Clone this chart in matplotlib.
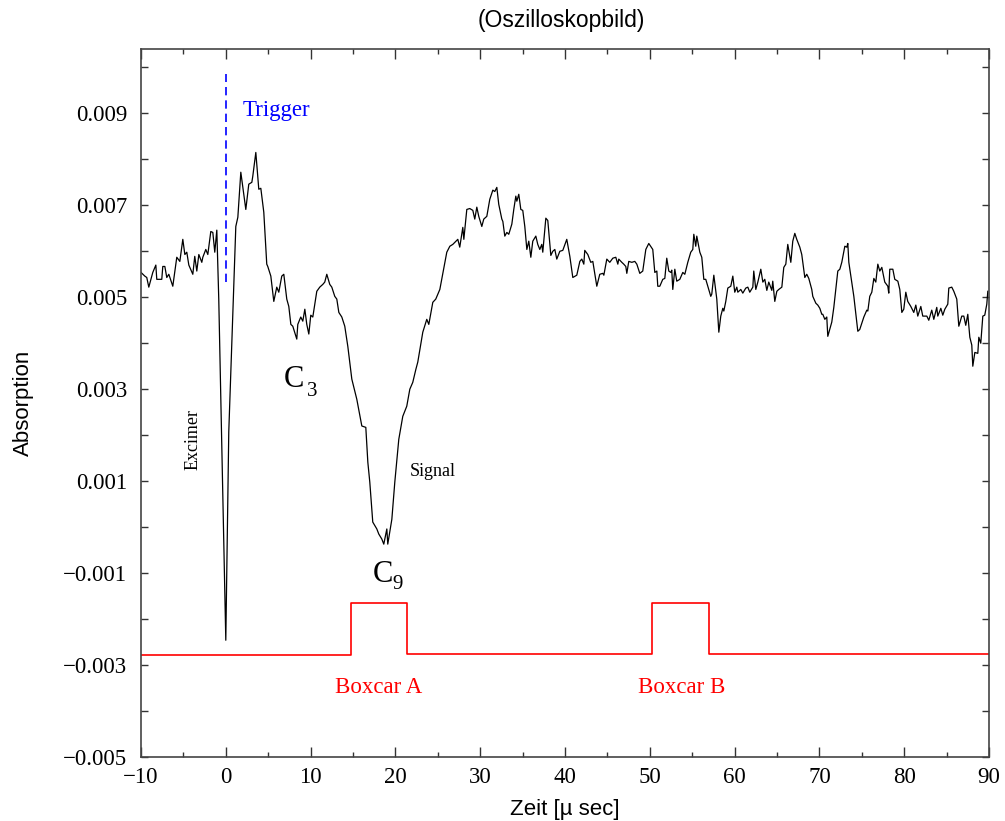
import numpy as np
import matplotlib
matplotlib.use("Agg")
import matplotlib.pyplot as plt
from matplotlib.ticker import MultipleLocator, FuncFormatter

# --- oscilloscope trace (time in microseconds, absorption in units of 1e-3) ---
zeit = [
    -10.0, -9.55, -9.32, -9.08, -8.61, -8.25, -8.14, -7.55, -7.43, -7.19,
    -6.96, -6.72, -6.25, -5.78, -5.42, -5.07, -4.83, -4.60, -4.36, -3.89,
    -3.66, -3.42, -3.18, -2.83, -2.71, -2.36, -2.12, -1.77, -1.53, -1.30,
    -1.06, -0.83, -0.47, 0.0, 0.35, 0.83, 1.18, 1.42, 1.77, 2.00,
    2.36, 2.71, 3.07, 3.18, 3.54, 3.89, 4.13, 4.48, 4.83, 4.95,
    5.31, 5.66, 6.01, 6.25, 6.60, 6.84, 7.19, 7.43, 7.67, 7.90,
    8.37, 8.49, 8.84, 9.08, 9.32, 9.55, 9.79, 10.02, 10.26, 10.73,
    11.08, 11.44, 11.67, 11.91, 12.26, 12.50, 12.85, 13.09, 13.33, 13.68,
    14.03, 14.39, 14.86, 15.45, 16.04, 16.51, 16.75, 16.98, 17.33, 17.81,
    18.04, 18.40, 18.63, 18.99, 19.10, 19.58, 19.93, 20.40, 20.87, 21.34,
    21.70, 22.05, 22.41, 22.64, 23.23, 23.70, 23.94, 24.41, 24.76, 25.24,
    25.83, 26.06, 26.42, 26.77, 27.36, 27.59, 27.95, 28.07, 28.42, 28.77,
    29.13, 29.36, 29.60, 29.83, 30.19, 30.42, 30.78, 31.13, 31.49, 31.72,
    31.96, 32.19, 32.55, 32.67, 32.90, 33.14, 33.37, 33.73, 33.96, 34.20,
    34.32, 34.55, 34.79, 35.02, 35.26, 35.50, 35.73, 35.97, 36.20, 36.56,
    36.79, 37.03, 37.26, 37.38, 37.74, 37.97, 38.33, 38.56, 38.80, 39.03,
    39.39, 39.74, 40.21, 40.57, 40.92, 41.39, 41.75, 41.98, 42.22, 42.33,
    42.69, 43.04, 43.28, 43.75, 43.87, 44.10, 44.46, 44.58, 44.93, 45.28,
    45.64, 45.99, 46.23, 46.34, 46.70, 46.93, 47.17, 47.29, 47.52, 47.88,
    48.23, 48.47, 48.82, 49.17, 49.53, 49.88, 50.35, 50.59, 50.83, 50.94,
    51.18, 51.53, 51.77, 52.00, 52.24, 52.48, 52.59, 52.71, 52.95, 53.18,
    53.54, 53.89, 54.13, 54.48, 54.83, 55.07, 55.19, 55.42, 55.54, 55.90,
    56.13, 56.37, 56.60, 56.84, 57.19, 57.31, 57.55, 57.90, 58.14, 58.37,
    58.61, 58.73, 58.96, 59.20, 59.55, 59.79, 60.02, 60.26, 60.38, 60.73,
    60.97, 61.32, 61.56, 61.79, 62.15, 62.26, 62.50, 62.74, 63.09, 63.33,
    63.56, 63.80, 64.03, 64.39, 64.50, 64.74, 64.98, 65.21, 65.57, 65.80,
    66.04, 66.27, 66.63, 66.86, 67.10, 67.33, 67.69, 67.92, 68.28, 68.51,
    68.75, 69.10, 69.22, 69.58, 69.81, 70.05, 70.28, 70.40, 70.64, 70.87,
    70.99, 71.46, 71.70, 72.17, 72.41, 72.64, 73.00, 73.23, 73.35, 73.47,
    73.82, 74.06, 74.53, 74.76, 75.24, 75.59, 75.71, 75.94, 76.18, 76.42,
    76.65, 76.89, 77.12, 77.36, 77.71, 78.07, 78.18, 78.30, 78.66, 78.89,
    79.25, 79.48, 79.72, 79.95, 80.19, 80.42, 80.78, 81.13, 81.37, 81.60,
    81.96, 82.19, 82.67, 82.90, 83.25, 83.49, 83.84, 83.96, 84.32, 84.55,
    84.79, 85.14, 85.26, 85.61, 85.85, 86.20, 86.44, 86.79, 87.03, 87.26,
    87.50, 87.74, 87.97, 88.09, 88.33, 88.68, 88.80, 89.03, 89.27, 89.50,
    89.74, 89.86,
]
absorption_milli = [
    5.54, 5.46, 5.43, 5.22, 5.54, 5.70, 5.39, 5.39, 5.67, 5.67,
    5.43, 5.50, 5.24, 5.87, 5.78, 6.26, 5.93, 5.98, 5.70, 5.50,
    5.89, 5.57, 5.93, 5.76, 5.87, 6.04, 5.93, 6.43, 6.41, 5.98,
    6.46, 4.96, 1.70, -2.46, 2.07, 4.67, 6.54, 6.74, 7.72, 7.41,
    6.91, 7.46, 7.50, 7.63, 8.15, 7.35, 7.37, 6.85, 5.72, 5.67,
    5.46, 4.91, 5.22, 5.11, 5.46, 5.50, 4.96, 4.80, 4.41, 4.37,
    4.09, 4.41, 4.57, 4.48, 4.74, 4.41, 4.20, 4.61, 4.57, 5.13,
    5.22, 5.28, 5.33, 5.50, 5.28, 5.22, 5.02, 4.96, 4.67, 4.57,
    4.37, 3.93, 3.22, 2.78, 2.20, 2.17, 1.41, 0.98, 0.11, -0.04,
    -0.15, -0.26, -0.37, -0.04, -0.37, 0.17, 0.98, 1.91, 2.41, 2.63,
    3.00, 3.15, 3.43, 3.59, 4.24, 4.52, 4.41, 4.89, 4.96, 5.17,
    5.76, 5.98, 6.11, 6.15, 6.26, 6.09, 6.52, 6.26, 6.91, 6.93,
    6.89, 6.70, 6.96, 6.76, 6.54, 6.70, 6.76, 7.13, 7.33, 7.30,
    7.39, 7.02, 6.70, 6.65, 6.33, 6.41, 6.37, 6.59, 6.91, 7.20,
    7.09, 7.24, 6.91, 6.89, 6.54, 6.04, 6.22, 5.87, 6.22, 6.33,
    6.15, 6.04, 6.15, 5.98, 6.72, 6.67, 5.91, 6.00, 6.04, 5.83,
    6.00, 6.02, 6.26, 5.89, 5.43, 5.48, 5.78, 5.83, 5.72, 6.02,
    5.93, 5.76, 5.78, 5.24, 5.33, 5.50, 5.52, 5.48, 5.83, 5.76,
    5.85, 5.87, 5.72, 5.83, 5.76, 5.72, 5.67, 5.52, 5.78, 5.76,
    5.78, 5.72, 5.52, 5.57, 6.04, 6.17, 6.04, 5.54, 5.57, 5.24,
    5.24, 5.39, 5.41, 5.85, 5.57, 5.54, 5.59, 5.17, 5.61, 5.35,
    5.39, 5.54, 5.50, 5.76, 5.98, 6.04, 6.37, 6.11, 6.33, 5.98,
    5.87, 5.39, 5.39, 5.24, 5.02, 5.07, 5.48, 4.96, 4.24, 4.59,
    4.76, 4.70, 4.91, 5.20, 5.24, 5.46, 5.11, 5.22, 5.11, 5.17,
    5.09, 5.20, 5.22, 5.11, 5.22, 5.57, 5.17, 5.33, 5.61, 5.33,
    5.39, 5.15, 5.33, 5.15, 5.35, 4.91, 5.13, 5.17, 5.22, 5.65,
    5.72, 6.15, 5.76, 6.22, 6.39, 6.26, 6.09, 5.93, 5.43, 5.50,
    5.41, 5.17, 5.02, 4.87, 4.83, 4.76, 4.63, 4.63, 4.52, 4.57,
    4.15, 4.46, 4.78, 5.57, 5.61, 5.76, 6.11, 6.09, 6.17, 5.76,
    5.33, 5.02, 4.26, 4.30, 4.57, 4.72, 4.70, 5.02, 5.11, 5.41,
    5.33, 5.72, 5.57, 5.65, 5.33, 5.24, 5.09, 5.61, 5.61, 5.39,
    5.35, 5.17, 4.67, 4.74, 5.11, 4.91, 4.80, 4.67, 4.83, 4.59,
    4.80, 4.59, 4.59, 4.50, 4.72, 4.52, 4.78, 4.59, 4.76, 4.61,
    4.74, 4.85, 5.20, 5.22, 5.13, 4.96, 4.37, 4.59, 4.59, 4.39,
    4.63, 4.13, 3.96, 3.50, 3.80, 3.78, 4.13, 4.00, 4.59, 4.61,
    4.85, 5.13,
]

# --- boxcar gate windows ---
boxcar_zeit = [-10.0, 14.8, 14.8, 21.4, 21.4, 50.3, 50.3, 57.0, 57.0, 90.0]
boxcar_milli = [-2.78, -2.78, -1.65, -1.65, -2.76, -2.76, -1.64, -1.64, -2.76, -2.76]

trigger_zeit = 0.0
trigger_range_milli = [5.33, 9.85]

serif = "Liberation Serif"
sans = "Liberation Sans"

fig = plt.figure(figsize=(10.05, 8.21), dpi=100)
ax = fig.add_axes([141 / 1005, 1 - 757 / 821, (989 - 141) / 1005, (757 - 49) / 821])

absorption = np.array(absorption_milli) * 1e-3
ax.plot(zeit, absorption, color="black", lw=0.9)
ax.plot(boxcar_zeit, np.array(boxcar_milli) * 1e-3, color="#ff0000", lw=1.2)
ax.plot([trigger_zeit, trigger_zeit], np.array(trigger_range_milli) * 1e-3,
        color="#0000ff", lw=1.2, ls=(0, (5, 3)))

ax.set_xlim(-10, 90)
ax.set_ylim(-0.005, 0.0104)

ax.xaxis.set_major_locator(MultipleLocator(10))
ax.xaxis.set_minor_locator(MultipleLocator(5))
ax.yaxis.set_minor_locator(MultipleLocator(0.001))
ax.set_yticks(np.arange(-0.005, 0.0095, 0.002))
ax.yaxis.set_major_formatter(FuncFormatter(lambda v, p: f"{v:.3f}".replace("-", "\u2212")))
ax.xaxis.set_major_formatter(FuncFormatter(lambda v, p: f"{v:.0f}".replace("-", "\u2212")))

ax.tick_params(which="both", direction="in", top=True, right=True, width=1.0, color="#333333")
ax.tick_params(axis="x", which="major", length=7, pad=7)
ax.tick_params(axis="x", which="minor", length=3.5)
ax.tick_params(axis="y", which="both", length=5, pad=10)
for lab in ax.get_xticklabels() + ax.get_yticklabels():
    lab.set_fontfamily(serif)
    lab.set_fontsize(16.5)
for sp in ax.spines.values():
    sp.set_linewidth(1.2)
    sp.set_color("#444444")

ax.set_xlabel("Zeit [\u00b5 sec]", family=sans, fontsize=16, labelpad=8)
ax.set_ylabel("Absorption", family=sans, fontsize=16, labelpad=21)
fig.text(561 / 1005, 1 - 20 / 821, "(Oszilloskopbild)", family=sans, fontsize=16.5,
         ha="center", va="center")

# annotations
ax.text(2.0, 0.00907, "Trigger", color="#0000ff", family=serif, fontsize=16.5, va="center")
ax.text(-3.9, 0.00191, "Excimer", family=serif, fontsize=13, rotation=90, ha="center", va="center")
ax.text(21.7, 0.00122, "Signal", family=serif, fontsize=13, va="center")
ax.text(6.8, 0.00304, "C", family=serif, fontsize=22, va="baseline")
ax.text(9.55, 0.00285, "3", family=serif, fontsize=15, va="baseline")
ax.text(17.3, -0.0012, "C", family=serif, fontsize=22, va="baseline")
ax.text(19.7, -0.00135, "9", family=serif, fontsize=15, va="baseline")
ax.text(18.0, -0.00348, "Boxcar A", color="#ff0000", family=serif, fontsize=16.5, ha="center", va="center")
ax.text(53.8, -0.00348, "Boxcar B", color="#ff0000", family=serif, fontsize=16.5, ha="center", va="center")

fig.savefig("out.png", dpi=100)
